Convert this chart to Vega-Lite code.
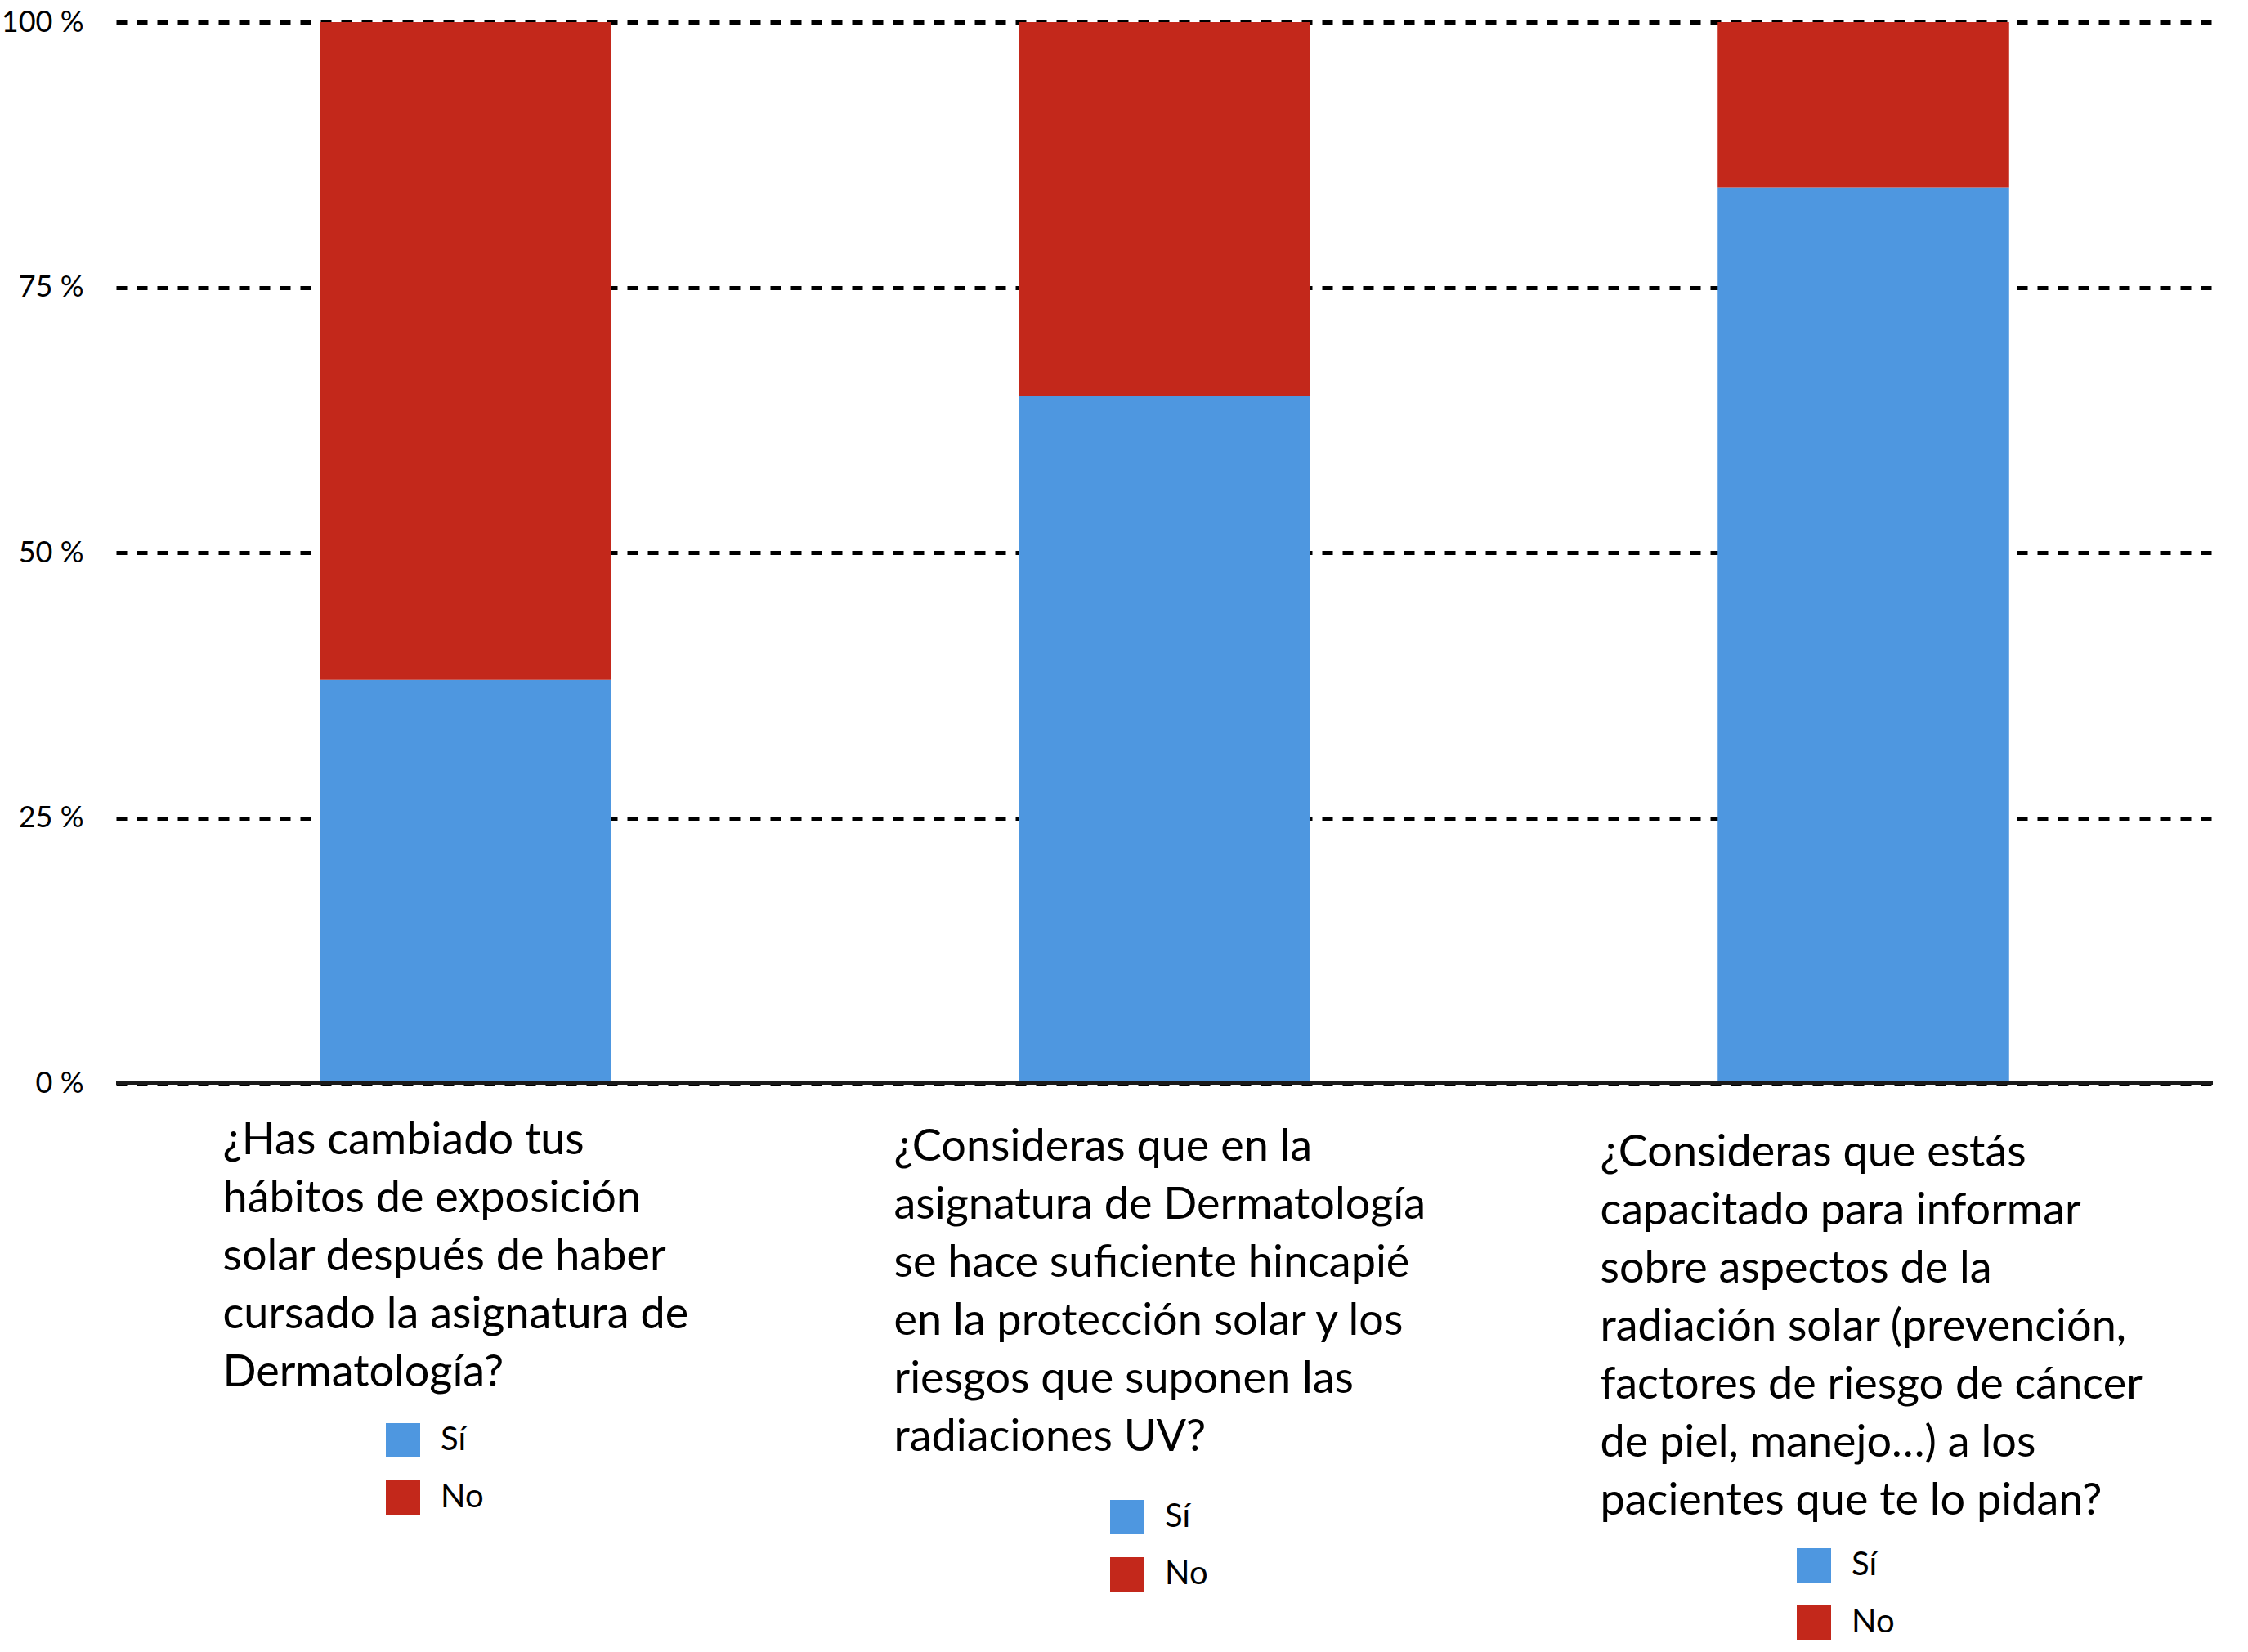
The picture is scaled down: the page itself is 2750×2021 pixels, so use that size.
{
  "$schema": "https://vega.github.io/schema/vega-lite/v6.json",
  "autosize": "none",
  "padding": {"left": 142, "top": 27, "right": 43, "bottom": 0},
  "width": 2565,
  "height": 1994,
  "background": "white",
  "config": {
    "view": {"stroke": null},
    "font": "Lato",
    "text": {"font": "Lato", "color": "black"}
  },
  "datasets": {
    "encuesta": [
      {"n": 1, "pregunta": "¿Has cambiado tus\nhábitos de exposición\nsolar después de haber\ncursado la asignatura de\nDermatología?", "respuesta": "Sí", "porcentaje": 38.0},
      {"n": 1, "pregunta": "¿Has cambiado tus\nhábitos de exposición\nsolar después de haber\ncursado la asignatura de\nDermatología?", "respuesta": "No", "porcentaje": 62.0},
      {"n": 2, "pregunta": "¿Consideras que en la\nasignatura de Dermatología\nse hace suficiente hincapié\nen la protección solar y los\nriesgos que suponen las\nradiaciones UV?", "respuesta": "Sí", "porcentaje": 64.8},
      {"n": 2, "pregunta": "¿Consideras que en la\nasignatura de Dermatología\nse hace suficiente hincapié\nen la protección solar y los\nriesgos que suponen las\nradiaciones UV?", "respuesta": "No", "porcentaje": 35.2},
      {"n": 3, "pregunta": "¿Consideras que estás\ncapacitado para informar\nsobre aspectos de la\nradiación solar (prevención,\nfactores de riesgo de cáncer\nde piel, manejo…) a los\npacientes que te lo pidan?", "respuesta": "Sí", "porcentaje": 84.4},
      {"n": 3, "pregunta": "¿Consideras que estás\ncapacitado para informar\nsobre aspectos de la\nradiación solar (prevención,\nfactores de riesgo de cáncer\nde piel, manejo…) a los\npacientes que te lo pidan?", "respuesta": "No", "porcentaje": 15.6}
    ]
  },
  "data": {"name": "encuesta"},
  "layer": [
    {
      "data": {"values": [{}]},
      "mark": {"type": "rule", "opacity": 0},
      "encoding": {
        "y": {"datum": 0, "type": "quantitative", "title": null,
              "scale": {"domain": [-53.62, 100], "nice": false, "zero": false},
              "axis": {"values": [0, 25, 50, 75, 100], "grid": true, "gridDash": [13, 12],
                       "gridColor": "black", "gridWidth": 5, "gridOpacity": 1,
                       "domain": false, "ticks": false, "labelExpr": "datum.value + ' %'",
                       "labelFont": "Lato", "labelFontSize": 36, "labelColor": "black",
                       "labelPadding": 40, "title": null}}
      }
    },
    {
      "transform": [{"filter": "datum.n == 1"}],
      "encoding": {
        "x": {"field": "n", "type": "ordinal", "axis": null,
              "scale": {"domain": [1, 2, 3], "paddingInner": 0.583, "paddingOuter": 0.2915}}
      },
      "layer": [
        {
          "mark": {"type": "bar"},
          "encoding": {
            "y": {"field": "porcentaje", "type": "quantitative", "stack": "zero", "title": null},
            "color": {"field": "respuesta", "type": "nominal", "sort": ["Sí", "No"],
                      "scale": {"domain": ["Sí", "No"], "range": ["#4e97e0", "#c3281b"]},
                      "legend": {"orient": "none", "legendX": 330, "legendY": 1714, "title": null,
                                 "symbolType": "square", "symbolSize": 1764, "symbolStrokeWidth": 0,
                                 "labelFont": "Lato", "labelFontSize": 40, "labelColor": "black",
                                 "labelOffset": 25, "rowPadding": 28, "padding": 0}}
          }
        },
        {
          "transform": [{"filter": "datum.respuesta == 'Sí'"}],
          "mark": {"type": "text", "align": "left", "baseline": "alphabetic", "dx": -297,
                   "lineBreak": "\n", "lineHeight": 71, "fontSize": 54},
          "encoding": {
            "text": {"field": "pregunta"},
            "y": {"datum": -6.7, "type": "quantitative", "title": null}
          }
        }
      ]
    },
    {
      "transform": [{"filter": "datum.n == 2"}],
      "encoding": {
        "x": {"field": "n", "type": "ordinal", "axis": null,
              "scale": {"domain": [1, 2, 3], "paddingInner": 0.583, "paddingOuter": 0.2915}}
      },
      "layer": [
        {
          "mark": {"type": "bar"},
          "encoding": {
            "y": {"field": "porcentaje", "type": "quantitative", "stack": "zero", "title": null},
            "color": {"field": "respuesta", "type": "nominal", "sort": ["Sí", "No"],
                      "scale": {"domain": ["Sí", "No"], "range": ["#4e97e0", "#c3281b"]},
                      "legend": {"orient": "none", "legendX": 1216, "legendY": 1808, "title": null,
                                 "symbolType": "square", "symbolSize": 1764, "symbolStrokeWidth": 0,
                                 "labelFont": "Lato", "labelFontSize": 40, "labelColor": "black",
                                 "labelOffset": 25, "rowPadding": 28, "padding": 0}}
          }
        },
        {
          "transform": [{"filter": "datum.respuesta == 'Sí'"}],
          "mark": {"type": "text", "align": "left", "baseline": "alphabetic", "dx": -331,
                   "lineBreak": "\n", "lineHeight": 71, "fontSize": 54},
          "encoding": {
            "text": {"field": "pregunta"},
            "y": {"datum": -7.32, "type": "quantitative", "title": null}
          }
        }
      ]
    },
    {
      "transform": [{"filter": "datum.n == 3"}],
      "encoding": {
        "x": {"field": "n", "type": "ordinal", "axis": null,
              "scale": {"domain": [1, 2, 3], "paddingInner": 0.583, "paddingOuter": 0.2915}}
      },
      "layer": [
        {
          "mark": {"type": "bar"},
          "encoding": {
            "y": {"field": "porcentaje", "type": "quantitative", "stack": "zero", "title": null},
            "color": {"field": "respuesta", "type": "nominal", "sort": ["Sí", "No"],
                      "scale": {"domain": ["Sí", "No"], "range": ["#4e97e0", "#c3281b"]},
                      "legend": {"orient": "none", "legendX": 2056, "legendY": 1867, "title": null,
                                 "symbolType": "square", "symbolSize": 1764, "symbolStrokeWidth": 0,
                                 "labelFont": "Lato", "labelFontSize": 40, "labelColor": "black",
                                 "labelOffset": 25, "rowPadding": 28, "padding": 0}}
          }
        },
        {
          "transform": [{"filter": "datum.respuesta == 'Sí'"}],
          "mark": {"type": "text", "align": "left", "baseline": "alphabetic", "dx": -322,
                   "lineBreak": "\n", "lineHeight": 71, "fontSize": 54},
          "encoding": {
            "text": {"field": "pregunta"},
            "y": {"datum": -7.86, "type": "quantitative", "title": null}
          }
        }
      ]
    },
    {
      "data": {"values": [{}]},
      "mark": {"type": "rule", "color": "#1a1a1a", "strokeWidth": 4},
      "encoding": {"y": {"datum": 0, "type": "quantitative", "title": null}}
    }
  ],
  "resolve": {"scale": {"color": "independent"}}
}
